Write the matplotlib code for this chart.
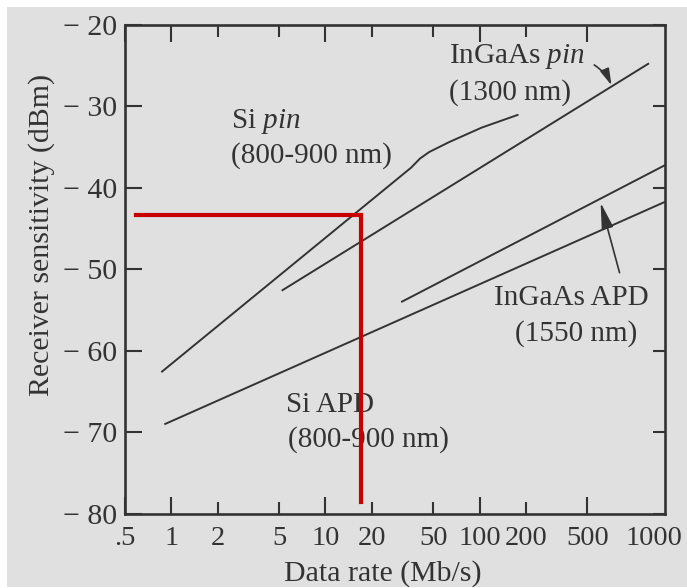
import matplotlib
matplotlib.use("Agg")
import matplotlib.pyplot as plt
from matplotlib.patches import Rectangle

plt.rcParams["font.family"] = "Liberation Serif"
plt.rcParams["mathtext.fontset"] = "custom"
plt.rcParams["mathtext.rm"] = "Liberation Serif"
plt.rcParams["mathtext.it"] = "Liberation Serif:italic"

# -------------------
# Data
# data rate in Mb/s, sensitivity in dBm
# -------------------

si_pin_rate = [0.86, 36, 41, 47, 63, 103, 179]
si_pin_dbm = [-62.6, -37.5, -36.4, -35.6, -34.4, -32.6, -31.0]

ingaas_pin_rate = [5.2, 1260]
ingaas_pin_dbm = [-52.6, -24.7]

ingaas_apd_rate = [31, 1600]
ingaas_apd_dbm = [-54.0, -37.2]

si_apd_rate = [0.9, 1600]
si_apd_dbm = [-69.0, -41.7]

# red read-off guide (~17 Mb/s -> about -43 dBm)
guide_rate = [0.59, 17, 17]
guide_dbm = [-43.3, -43.3, -78.5]

xmajor = [0.5, 1, 10, 100, 500]
xmajor_labels = [".5", "1", "10", "100", "500"]
xminor = [2, 5, 20, 50, 200]
xminor_labels = ["2", "5", "20", "50", "200"]

yticks = [-80, -70, -60, -50, -40, -30, -20]
ylabels = ["\u2212 80", "\u2212 70", "\u2212 60", "\u2212 50",
           "\u2212 40", "\u2212 30", "\u2212 20"]

ink = "#333333"
bg = "#e0e0e0"

# -------------------
# Figure
# -------------------

fig = plt.figure(figsize=(6.87, 5.88), dpi=100, facecolor="white")
fig.add_artist(Rectangle((7 / 687, 1 / 588), 680 / 687, 580 / 588,
                         transform=fig.transFigure, facecolor=bg,
                         edgecolor="none", zorder=-10))

ax = fig.add_axes([0.182, 0.1259, 0.786, 0.8316])
ax.set_facecolor(bg)

ax.set_xscale("log")
ax.set_xlim(0.5, 1600)
ax.set_ylim(-80, -20)

for r, d in [(si_pin_rate, si_pin_dbm),
             (ingaas_pin_rate, ingaas_pin_dbm),
             (ingaas_apd_rate, ingaas_apd_dbm),
             (si_apd_rate, si_apd_dbm)]:
    ax.plot(r, d, color=ink, linewidth=1.4, solid_capstyle="butt")

ax.plot(guide_rate, guide_dbm, color="#c80000", linewidth=3,
        solid_joinstyle="miter", zorder=5)

# -------------------
# Ticks
# -------------------

ax.set_xticks(xmajor)
ax.set_xticklabels(xmajor_labels)
ax.set_xticks(xminor, minor=True)
ax.set_xticklabels(xminor_labels, minor=True)
ax.set_yticks(yticks)
ax.set_yticklabels(ylabels)

ax.tick_params(axis="x", which="major", direction="in", top=True,
               length=12.5, width=1.5, pad=9, labelsize=20.5, colors=ink)
ax.tick_params(axis="x", which="minor", direction="in", top=True,
               length=8.5, width=1.5, pad=9, labelsize=20.5, colors=ink)
ax.tick_params(axis="y", direction="in", right=True,
               length=12.5, width=1.5, pad=5.5, labelsize=21.5, colors=ink)
for t in ax.yaxis.get_major_ticks():
    t.tick2line.set_markersize(8.5)

ax.annotate("1000", xy=(0.98, 0), xycoords="axes fraction",
            xytext=(0, -9), textcoords="offset points",
            ha="center", va="top", fontsize=20.5, color=ink)

for s in ax.spines.values():
    s.set_linewidth(1.9)
    s.set_color(ink)

ax.set_xlabel("Data rate (Mb/s)", fontsize=21.5, color=ink)
ax.set_ylabel("Receiver sensitivity (dBm)", fontsize=21.5, color=ink)
ax.xaxis.set_label_coords(0.478, -0.094)
ax.yaxis.set_label_coords(-0.13, 0.571)

# -------------------
# Curve labels
# -------------------

fs = 21
ax.text(2.45, -31.9, "Si $\\mathit{pin}$", fontsize=fs, color=ink, va="center")
ax.text(2.45, -36.0, "(800-900 nm)", fontsize=fs, color=ink, va="center")

ax.text(63, -23.9, "InGaAs $\\mathit{pin}$", fontsize=fs, color=ink, va="center")
ax.text(63, -28.3, "(1300 nm)", fontsize=fs, color=ink, va="center")

ax.text(396, -53.5, "InGaAs APD", fontsize=fs, color=ink,
        ha="center", va="center")
ax.text(426, -57.8, "(1550 nm)", fontsize=fs, color=ink,
        ha="center", va="center")

ax.text(5.58, -66.6, "Si APD", fontsize=fs, color=ink, va="center")
ax.text(5.75, -70.9, "(800-900 nm)", fontsize=fs, color=ink, va="center")

ax.annotate("", xy=(719, -27.4), xytext=(555, -24.9),
            arrowprops=dict(arrowstyle="-|>,head_length=0.5,head_width=0.14",
                            mutation_scale=20, color=ink, lw=1.2,
                            shrinkA=0, shrinkB=0,
                            connectionstyle="arc3,rad=-0.15"))
ax.annotate("", xy=(611, -41.8), xytext=(811, -50.4),
            arrowprops=dict(arrowstyle="-|>,head_length=0.8,head_width=0.18",
                            mutation_scale=20, color=ink, lw=1.2,
                            shrinkA=0, shrinkB=0))

plt.savefig("out.png", dpi=100, facecolor=fig.get_facecolor())
